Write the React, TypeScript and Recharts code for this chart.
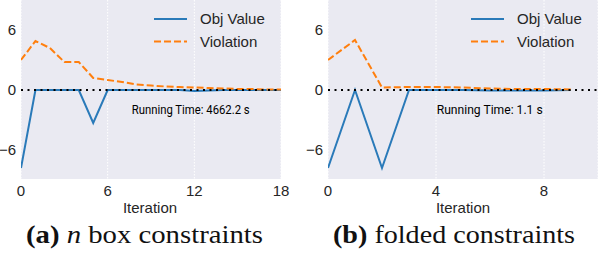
import { LineChart, Line, XAxis, YAxis, CartesianGrid, ReferenceLine, Legend } from 'recharts';

// iterations and values
const ITER_A = [0, 1, 2, 3, 4, 5, 6, 7, 8, 9, 10, 11, 12, 13, 14, 15, 16, 17, 18];
const OBJ_A = [-7.8, 0, 0, 0, 0, -3.3, 0, 0, 0, 0, 0, 0, -0.1, -0.05, 0, 0, 0, 0, 0];
const VIOL_A = [3.0, 4.9, 4.2, 2.8, 2.8, 1.2, 1.0, 0.8, 0.55, 0.45, 0.35, 0.3, 0.25, 0.2, 0.15, 0.1, 0.1, 0.05, 0.05];

const ITER_B = [0, 1, 2, 3, 4, 5, 6, 7, 8, 9];
const OBJ_B = [-7.8, 0, -7.8, 0, 0, 0, -0.05, -0.05, -0.05, 0];
const VIOL_B = [3.0, 5.0, 0.25, 0.3, 0.3, 0.25, 0.15, 0.1, 0.1, 0.05];

const TICKS_A = [0, 6, 12, 18];
const TICKS_B = [0, 4, 8];
const Y_TICKS = [-6, 0, 6];

const BLUE = '#2a7ab9';
const ORANGE = '#ff7f0e';
const SANS = '"Liberation Sans", Arial, sans-serif';
const SERIF = '"Liberation Serif", "Times New Roman", serif';

const dataA = ITER_A.map((x, i) => ({ x, obj: OBJ_A[i], viol: VIOL_A[i] }));
const dataB = ITER_B.map((x, i) => ({ x, obj: OBJ_B[i], viol: VIOL_B[i] }));

const fmt = (v: number) => (v < 0 ? '\u2212' + Math.abs(v) : String(v));

function LegendBox() {
  const items = [
    { label: 'Obj Value', color: BLUE, dash: undefined },
    { label: 'Violation', color: ORANGE, dash: '7 3' },
  ];
  return (
    <svg width={110} height={50} style={{ display: 'block', overflow: 'visible' }}>
      {items.map((it, i) => (
        <g key={it.label}>
          <line x1={0} x2={33} y1={9 + i * 22.4} y2={9 + i * 22.4} stroke={it.color} strokeWidth={2} strokeDasharray={it.dash} />
          <text x={46} y={14.4 + i * 22.4} fontFamily={SANS} fontSize={15} fill="#262626">{it.label}</text>
        </g>
      ))}
    </svg>
  );
}

function Panel({ data, ticks, xMax, yWidth, right, legendLeft }: { data: any[]; ticks: number[]; xMax: number; yWidth: number; right: number; legendLeft: number }) {
  return (
    <LineChart width={300} height={254} data={data} margin={{ top: 0, right, bottom: 0, left: 0 }}>
      <CartesianGrid horizontal={false} stroke="#ffffff" strokeDasharray="1.5 1.5" fill="#EAEAF2" />
      <XAxis
        type="number"
        dataKey="x"
        domain={[0, xMax]}
        ticks={ticks}
        interval={0}
        allowDataOverflow
        axisLine={false}
        tickLine={false}
        tickSize={0}
        tickMargin={6}
        height={75}
        tick={{ fontSize: 15, fill: '#262626', fontFamily: SANS }}
      />
      <YAxis
        type="number"
        domain={[-8.9, 9.0]}
        ticks={Y_TICKS}
        interval={0}
        allowDataOverflow
        axisLine={false}
        tickLine={false}
        tickSize={0}
        tickMargin={5}
        width={yWidth}
        tickFormatter={fmt}
        tick={{ fontSize: 15, fill: '#262626', fontFamily: SANS }}
      />
      <Line type="linear" dataKey="obj" stroke={BLUE} strokeWidth={2} dot={false} isAnimationActive={false} />
      <Line type="linear" dataKey="viol" stroke={ORANGE} strokeWidth={2} strokeDasharray="7 3" dot={false} isAnimationActive={false} />
      <ReferenceLine y={0} stroke="#000000" strokeWidth={2} strokeDasharray="2 4.5" />
      <Legend
        layout="vertical"
        align="center"
        verticalAlign="middle"
        content={() => <LegendBox />}
        wrapperStyle={{ left: legendLeft, top: 10, width: 120, height: 50 }}
      />
    </LineChart>
  );
}

export default function App() {
  return (
    <div style={{ position: 'absolute', left: 0, top: 0, width: 598, height: 254, background: '#fff', overflow: 'hidden' }}>
      <div style={{ position: 'absolute', left: 0, top: 0 }}>
        <Panel data={dataA} ticks={TICKS_A} xMax={18} yWidth={21} right={19} legendLeft={154} />
      </div>
      <div style={{ position: 'absolute', left: 298, top: 0 }}>
        <Panel data={dataB} ticks={TICKS_B} xMax={10} yWidth={30} right={0} legendLeft={173} />
      </div>
      <svg width={598} height={254} style={{ position: 'absolute', left: 0, top: 0, pointerEvents: 'none' }}>
        <text x={131.7} y={114} fontFamily="Roboto, sans-serif" fontSize={12} fill="#000" textLength={118} lengthAdjust="spacingAndGlyphs">Running Time: 4662.2 s</text>
        <text x={436.7} y={114} fontFamily="Roboto, sans-serif" fontSize={12} fill="#000" textLength={106} lengthAdjust="spacingAndGlyphs">Running Time: 1.1 s</text>
        <text x={150} y={212.5} textAnchor="middle" fontFamily={SANS} fontSize={15} fill="#262626">Iteration</text>
        <text x={463} y={212.5} textAnchor="middle" fontFamily={SANS} fontSize={15} fill="#262626">Iteration</text>
        <text x={26} y={243} fontFamily={SERIF} fontSize={25} fill="#111" textLength={237} lengthAdjust="spacingAndGlyphs">
          <tspan fontWeight="bold">(a)</tspan> <tspan fontStyle="italic">n</tspan> box constraints
        </text>
        <text x={333} y={243} fontFamily={SERIF} fontSize={25} fill="#111" textLength={242} lengthAdjust="spacingAndGlyphs">
          <tspan fontWeight="bold">(b)</tspan> folded constraints
        </text>
      </svg>
    </div>
  );
}
